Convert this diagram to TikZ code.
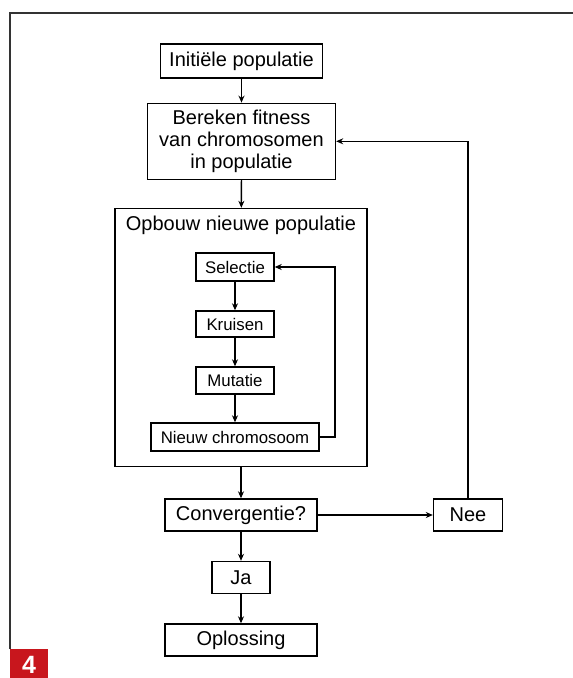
\documentclass[tikz,border=0pt]{standalone}
\usepackage{fontspec}
\setmainfont{Liberation Sans}
\usetikzlibrary{arrows.meta}
\definecolor{tagred}{HTML}{C8161D}
\definecolor{framegray}{HTML}{333333}
\begin{document}
\begin{tikzpicture}[x=1pt,y=-1pt,
  box/.style={draw, line width=1.4pt, inner sep=0pt, align=center,
              font=\fontsize{20}{21.6}\selectfont},
  sbox/.style={draw, line width=1.4pt, inner sep=0pt,
               font=\fontsize{16.8}{19}\selectfont},
  flow/.style={line width=1.3pt, -{Stealth[length=7pt,width=6pt]}}]
\useasboundingbox (0,0) rectangle (573,678);
\fill[white] (0,0) rectangle (573,678);

% page frame and figure number
\draw[line width=1.3pt, framegray] (10,649) -- (10,13) -- (573,13);
\fill[tagred] (10,649) rectangle (48,678);
\node[text=white, font=\bfseries\fontsize{25}{25}\selectfont] (fignum) at (29,665) {4};

% main column
\node[box, minimum width=162pt, minimum height=34pt] (init) at (241.5,61) {Initiële populatie};
\node[box, minimum width=188pt, minimum height=76pt] (fit) at (241.5,141.3)
  {Bereken fitness\\van chromosomen\\in populatie};
\node[box, minimum width=252pt, minimum height=258pt] (build) at (241,337.5) {};
\node[font=\fontsize{20}{21.6}\selectfont, inner sep=0pt] (buildtitle) at (241,225) {Opbouw nieuwe populatie};

% inner loop
\node[sbox, minimum width=78pt, minimum height=28pt] (sel) at (235,267) {Selectie};
\node[sbox, minimum width=78pt, minimum height=26pt] (kruis) at (235,324) {Kruisen};
\node[sbox, minimum width=78pt, minimum height=27pt] (mut) at (235,380.5) {Mutatie};
\node[sbox, minimum width=168pt, minimum height=28pt] (nieuw) at (235,437) {Nieuw chromosoom};
\coordinate (loopx) at (335,0);

% decision part
\node[box, minimum width=152pt, minimum height=32pt] (conv) at (241,515) {Convergentie?};
\node[box, minimum width=69pt, minimum height=32pt] (nee) at (468,515) {Nee};
\node[box, minimum width=58pt, minimum height=32pt] (ja) at (241,577.5) {Ja};
\node[box, minimum width=152pt, minimum height=32pt] (opl) at (241,640) {Oplossing};

% connectors
\draw[flow] (init) -- (fit);
\draw[flow] (fit) -- (build);
\draw[flow] (sel) -- (kruis);
\draw[flow] (kruis) -- (mut);
\draw[flow] (mut) -- (nieuw);
\draw[flow] (nieuw.east) -- (nieuw.east -| loopx) |- (sel.east);
\draw[flow] (build.south -| conv.north) -- (conv.north);
\draw[flow] (conv) -- (nee);
\draw[flow] (nee.north) |- (fit.east);
\draw[flow] (conv) -- (ja);
\draw[flow] (ja) -- (opl);
\end{tikzpicture}
\end{document}
